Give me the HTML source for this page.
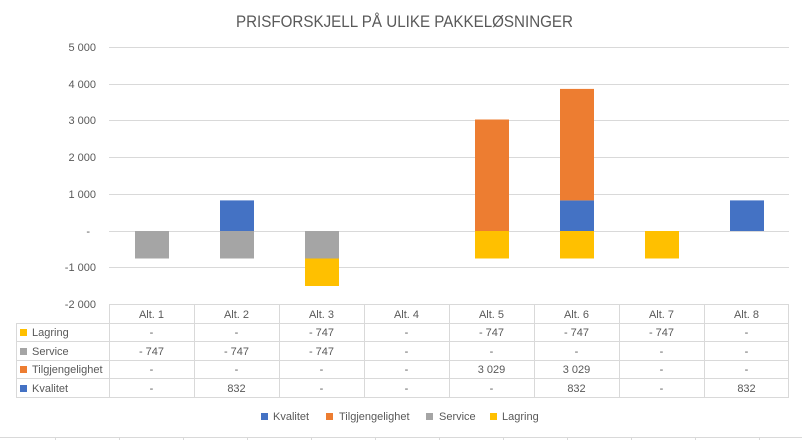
<!DOCTYPE html>
<html><head><meta charset="utf-8"><style>
body{margin:0;background:#fff;}
svg{display:block;font-family:"Liberation Sans",sans-serif;}
</style></head><body>
<svg width="802" height="440" xmlns="http://www.w3.org/2000/svg">
<rect width="802" height="440" fill="#fff"/>
<text x="236" y="27" font-size="17" fill="#595959" textLength="337" lengthAdjust="spacingAndGlyphs">PRISFORSKJELL PÅ ULIKE PAKKELØSNINGER</text>
<g stroke="#d9d9d9" stroke-width="1">
<line x1="109" y1="47.5" x2="789" y2="47.5"/>
<line x1="109" y1="84.5" x2="789" y2="84.5"/>
<line x1="109" y1="120.5" x2="789" y2="120.5"/>
<line x1="109" y1="157.5" x2="789" y2="157.5"/>
<line x1="109" y1="194.5" x2="789" y2="194.5"/>
<line x1="109" y1="231.5" x2="789" y2="231.5"/>
<line x1="109" y1="267.5" x2="789" y2="267.5"/>
</g>
<g font-size="11" fill="#595959" text-anchor="end">
<text x="96" y="51">5 000</text>
<text x="96" y="88">4 000</text>
<text x="96" y="124">3 000</text>
<text x="96" y="161">2 000</text>
<text x="96" y="198">1 000</text>
<text x="90" y="235">-</text>
<text x="96" y="271">-1 000</text>
<text x="96" y="308">-2 000</text>
</g>
<rect x="135" y="231" width="34" height="27.5" fill="#a5a5a5"/>
<rect x="220" y="231" width="34" height="27.5" fill="#a5a5a5"/>
<rect x="220" y="200.4" width="34" height="30.6" fill="#4472c4"/>
<rect x="305" y="231" width="34" height="27.5" fill="#a5a5a5"/>
<rect x="305" y="258.5" width="34" height="27.5" fill="#ffc000"/>
<rect x="475" y="231" width="34" height="27.5" fill="#ffc000"/>
<rect x="475" y="119.5" width="34" height="111.5" fill="#ed7d31"/>
<rect x="560" y="231" width="34" height="27.5" fill="#ffc000"/>
<rect x="560" y="200.4" width="34" height="30.6" fill="#4472c4"/>
<rect x="560" y="88.9" width="34" height="111.5" fill="#ed7d31"/>
<rect x="645" y="231" width="34" height="27.5" fill="#ffc000"/>
<rect x="730" y="200.4" width="34" height="30.6" fill="#4472c4"/>
<g stroke="#d9d9d9" stroke-width="1" fill="none">
<line x1="109" y1="304.5" x2="789" y2="304.5"/>
<line x1="16" y1="323.5" x2="789" y2="323.5"/>
<line x1="16" y1="341.5" x2="789" y2="341.5"/>
<line x1="16" y1="360.5" x2="789" y2="360.5"/>
<line x1="16" y1="378.5" x2="789" y2="378.5"/>
<line x1="16" y1="397.5" x2="789" y2="397.5"/>
<line x1="16.5" y1="323" x2="16.5" y2="397"/>
<line x1="109.5" y1="304" x2="109.5" y2="397"/>
<line x1="194.5" y1="304" x2="194.5" y2="397"/>
<line x1="279.5" y1="304" x2="279.5" y2="397"/>
<line x1="364.5" y1="304" x2="364.5" y2="397"/>
<line x1="449.5" y1="304" x2="449.5" y2="397"/>
<line x1="534.5" y1="304" x2="534.5" y2="397"/>
<line x1="619.5" y1="304" x2="619.5" y2="397"/>
<line x1="704.5" y1="304" x2="704.5" y2="397"/>
<line x1="788.5" y1="304" x2="788.5" y2="397"/>
</g>
<g font-size="11" fill="#595959" text-anchor="middle">
<text x="151.5" y="318">Alt. 1</text><text x="236.5" y="318">Alt. 2</text><text x="321.5" y="318">Alt. 3</text><text x="406.5" y="318">Alt. 4</text><text x="491.5" y="318">Alt. 5</text><text x="576.5" y="318">Alt. 6</text><text x="661.5" y="318">Alt. 7</text><text x="746.5" y="318">Alt. 8</text>
<text x="151.5" y="336">-</text><text x="236.5" y="336">-</text><text x="321.5" y="336">- 747</text><text x="406.5" y="336">-</text><text x="491.5" y="336">- 747</text><text x="576.5" y="336">- 747</text><text x="661.5" y="336">- 747</text><text x="746.5" y="336">-</text>
<text x="151.5" y="355">- 747</text><text x="236.5" y="355">- 747</text><text x="321.5" y="355">- 747</text><text x="406.5" y="355">-</text><text x="491.5" y="355">-</text><text x="576.5" y="355">-</text><text x="661.5" y="355">-</text><text x="746.5" y="355">-</text>
<text x="151.5" y="373">-</text><text x="236.5" y="373">-</text><text x="321.5" y="373">-</text><text x="406.5" y="373">-</text><text x="491.5" y="373">3 029</text><text x="576.5" y="373">3 029</text><text x="661.5" y="373">-</text><text x="746.5" y="373">-</text>
<text x="151.5" y="392">-</text><text x="236.5" y="392">832</text><text x="321.5" y="392">-</text><text x="406.5" y="392">-</text><text x="491.5" y="392">-</text><text x="576.5" y="392">832</text><text x="661.5" y="392">-</text><text x="746.5" y="392">832</text>
</g>
<g font-size="11" fill="#595959">
<rect x="20" y="329" width="7" height="7" fill="#ffc000"/><text x="32" y="336">Lagring</text>
<rect x="20" y="348" width="7" height="7" fill="#a5a5a5"/><text x="32" y="355">Service</text>
<rect x="20" y="366" width="7" height="7" fill="#ed7d31"/><text x="32" y="373">Tilgjengelighet</text>
<rect x="20" y="385" width="7" height="7" fill="#4472c4"/><text x="32" y="392">Kvalitet</text>
<rect x="261" y="413" width="7" height="7" fill="#4472c4"/><text x="273" y="420">Kvalitet</text>
<rect x="326" y="413" width="7" height="7" fill="#ed7d31"/><text x="339" y="420">Tilgjengelighet</text>
<rect x="426" y="413" width="7" height="7" fill="#a5a5a5"/><text x="439" y="420">Service</text>
<rect x="490" y="413" width="7" height="7" fill="#ffc000"/><text x="502" y="420">Lagring</text>
</g>
<g stroke="#d9d9d9" stroke-width="1">
<line x1="0" y1="437.5" x2="802" y2="437.5"/>
<line x1="55.5" y1="437" x2="55.5" y2="440"/><line x1="119.5" y1="437" x2="119.5" y2="440"/><line x1="183.5" y1="437" x2="183.5" y2="440"/><line x1="247.5" y1="437" x2="247.5" y2="440"/><line x1="311.5" y1="437" x2="311.5" y2="440"/><line x1="375.5" y1="437" x2="375.5" y2="440"/><line x1="439.5" y1="437" x2="439.5" y2="440"/><line x1="503.5" y1="437" x2="503.5" y2="440"/><line x1="567.5" y1="437" x2="567.5" y2="440"/><line x1="631.5" y1="437" x2="631.5" y2="440"/><line x1="695.5" y1="437" x2="695.5" y2="440"/><line x1="759.5" y1="437" x2="759.5" y2="440"/>
</g>
</svg>
</body></html>
